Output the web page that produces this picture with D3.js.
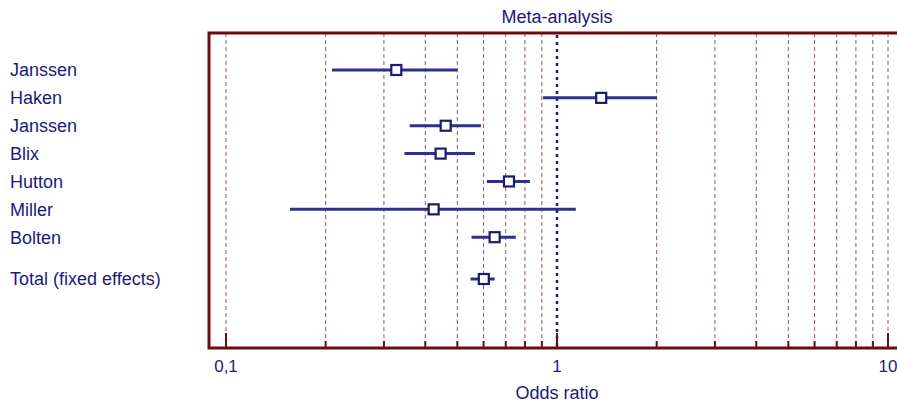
<!DOCTYPE html>
<meta charset="utf-8">
<style>
body { margin: 0; background: #fff; }
text { font-family: "Liberation Sans", Arial, sans-serif; fill: #1a1a7c; }
.grid { stroke: #8c5a5f; stroke-width: 1; stroke-dasharray: 4,3; }
.ci { stroke: #2e2f8f; stroke-width: 3; }
.box { fill: #fff; stroke: #1a1a6e; stroke-width: 2.2; }
</style>
<body>
<svg id="svg" width="897" height="406"></svg>
<script src="https://cdnjs.cloudflare.com/ajax/libs/d3/7.8.5/d3.min.js"></script>
<script>

var studies = ["Janssen", "Haken", "Janssen", "Blix", "Hutton", "Miller", "Bolten", "Total (fixed effects)"];
var rowIndex = [0, 1, 2, 3, 4, 5, 6, 7.5];
var oddsRatio = [0.327, 1.36, 0.461, 0.445, 0.716, 0.424, 0.648, 0.601];
var ciLow = [0.209, 0.908, 0.359, 0.346, 0.614, 0.156, 0.552, 0.548];
var ciHigh = [0.50, 2.0, 0.589, 0.565, 0.828, 1.14, 0.751, 0.648];
var majorTicks = [0.1, 1, 10];
var tickLabels = ["0,1", "1", "10"];
var minorTicks = [0.2, 0.3, 0.4, 0.5, 0.6, 0.7, 0.8, 0.9, 2, 3, 4, 5, 6, 7, 8, 9];

var svg = d3.select("svg"),
    frame = {left: 209, right: 910, top: 33, bottom: 348};

var x = d3.scaleLog().domain([0.1, 10]).range([226, 888]);
var y = d3.scaleLinear().domain([0, 7.5]).range([70, 279]);

// title
svg.append("text")
    .attr("x", x(1)).attr("y", 23)
    .attr("text-anchor", "middle")
    .style("font-size", "18px")
    .text("Meta-analysis");

// grid lines
svg.selectAll(".grid")
  .data(minorTicks.concat([0.1, 10]))
  .enter().append("line")
    .attr("class", "grid")
    .attr("x1", function(d) { return x(d); })
    .attr("x2", function(d) { return x(d); })
    .attr("y1", frame.top)
    .attr("y2", frame.bottom);

// line of no effect
svg.append("line")
    .attr("x1", x(1)).attr("x2", x(1))
    .attr("y1", frame.top + 2).attr("y2", frame.bottom)
    .style("stroke", "#1c1c78")
    .style("stroke-width", 2.5)
    .style("stroke-dasharray", "3,4");

// frame
svg.append("rect")
    .attr("x", frame.left).attr("y", frame.top)
    .attr("width", frame.right - frame.left)
    .attr("height", frame.bottom - frame.top)
    .style("fill", "none")
    .style("stroke", "#6b0d10")
    .style("stroke-width", 3);

// axis ticks
svg.selectAll(".minor")
  .data(minorTicks)
  .enter().append("line")
    .attr("x1", function(d) { return x(d); })
    .attr("x2", function(d) { return x(d); })
    .attr("y1", frame.bottom - 7).attr("y2", frame.bottom)
    .style("stroke", "#6b0d10").style("stroke-width", 2);

svg.selectAll(".major")
  .data(majorTicks)
  .enter().append("line")
    .attr("x1", function(d) { return x(d); })
    .attr("x2", function(d) { return x(d); })
    .attr("y1", frame.bottom - 15).attr("y2", frame.bottom)
    .style("stroke", "#6b0d10").style("stroke-width", 2);

svg.selectAll(".ticklabel")
  .data(majorTicks)
  .enter().append("text")
    .attr("x", function(d) { return x(d); })
    .attr("y", 372)
    .attr("text-anchor", "middle")
    .style("font-size", "17px")
    .text(function(d, i) { return tickLabels[i]; });

svg.append("text")
    .attr("x", x(1)).attr("y", 399)
    .attr("text-anchor", "middle")
    .style("font-size", "18px")
    .text("Odds ratio");

// study labels
svg.selectAll(".label")
  .data(studies)
  .enter().append("text")
    .attr("x", 10)
    .attr("y", function(d, i) { return y(rowIndex[i]); })
    .attr("dy", "0.35em")
    .style("font-size", "18px")
    .text(function(d) { return d; });

// confidence intervals
var row = svg.selectAll(".row")
  .data(studies)
  .enter().append("g");

row.append("line")
    .attr("class", "ci")
    .attr("x1", function(d, i) { return x(ciLow[i]); })
    .attr("x2", function(d, i) { return x(ciHigh[i]); })
    .attr("y1", function(d, i) { return y(rowIndex[i]); })
    .attr("y2", function(d, i) { return y(rowIndex[i]); });

row.append("rect")
    .attr("class", "box")
    .attr("x", function(d, i) { return x(oddsRatio[i]) - 5; })
    .attr("y", function(d, i) { return y(rowIndex[i]) - 5; })
    .attr("width", 10)
    .attr("height", 10);

</script>
</body>
